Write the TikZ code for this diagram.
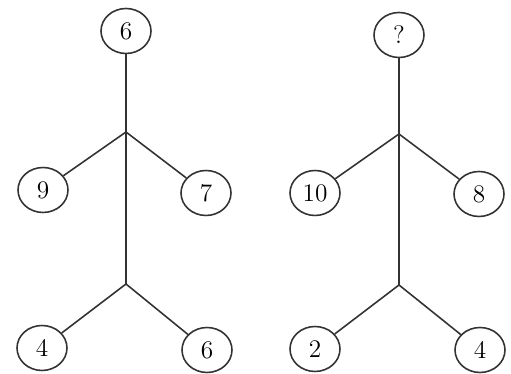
\documentclass[tikz,border=0pt]{standalone}
\usepackage{tikz}
\usetikzlibrary{shapes.geometric,positioning}

\tikzset{
  num/.style={draw=black!80, ellipse, line width=0.9pt, minimum width=1.0cm, minimum height=0.9cm, inner sep=0pt, font=\Large},
  stick/.style={draw=black!80, line width=0.9pt}
}

\begin{document}
\begin{tikzpicture}[x=0.02cm, y=-0.02cm]
  \useasboundingbox (0, 0) rectangle (511, 374);

  % Left figure
  \node[num] (la) at (126, 31) {6};
  \coordinate (lj1) at (126, 132);
  \coordinate (lj2) at (126, 284);
  \node[num] (lb) at (43, 190) {9};
  \node[num] (lc) at (206, 193) {7};
  \node[num] (ld) at (42, 348) {4};
  \node[num] (le) at (207, 350) {6};
  \draw[stick] (la) -- (lj1) -- (lj2);
  \draw[stick] (lj1) -- (lb);
  \draw[stick] (lj1) -- (lc);
  \draw[stick] (lj2) -- (ld);
  \draw[stick] (lj2) -- (le);

  % Right figure
  \node[num] (ra) at (399, 35) {?};
  \coordinate (rj1) at (399, 134);
  \coordinate (rj2) at (399, 285);
  \node[num] (rb) at (315, 193) {10};
  \node[num] (rc) at (479, 194) {8};
  \node[num] (rd) at (315, 349) {2};
  \node[num] (re) at (480, 350) {4};
  \draw[stick] (ra) -- (rj1) -- (rj2);
  \draw[stick] (rj1) -- (rb);
  \draw[stick] (rj1) -- (rc);
  \draw[stick] (rj2) -- (rd);
  \draw[stick] (rj2) -- (re);
\end{tikzpicture}
\end{document}
